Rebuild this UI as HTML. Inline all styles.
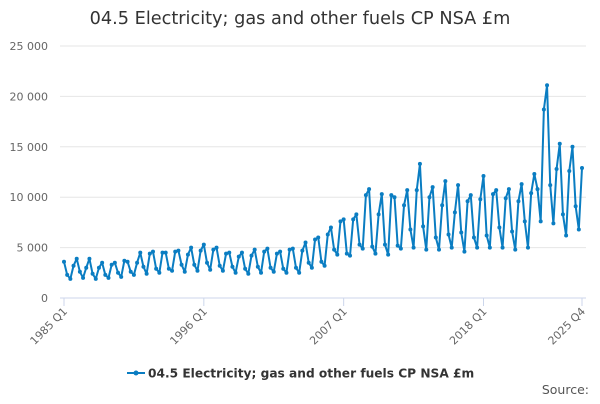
<!DOCTYPE html>
<html><head><meta charset="utf-8"><style>
body{margin:0;background:#fff;font-family:"DejaVu Sans","Liberation Sans",sans-serif}
svg text{font-family:"DejaVu Sans","Liberation Sans",sans-serif}
</style></head><body>
<svg id="c" width="600" height="400">
<text x="300" y="24" text-anchor="middle" font-size="17.7" fill="#333">04.5 Electricity; gas and other fuels CP NSA £m</text>
<g id="grid"></g><g id="axes"></g><g id="series"></g>
<g>
<line x1="127" y1="373" x2="145" y2="373" stroke="#0a7dc2" stroke-width="2"/>
<circle cx="136" cy="373" r="2.5" fill="#0a7dc2"/>
<text x="148" y="377.5" font-size="12.2" font-weight="bold" fill="#333">04.5 Electricity; gas and other fuels CP NSA £m</text>
</g>
<text x="589" y="394" text-anchor="end" font-size="12.5" fill="#555">Source:</text>
</svg>
<script>
const startYear = 1985;
const values = [
3600,2300,1900,3200, 3900,2600,2000,3000, 3900,2400,1900,3000, 3500,2300,2000,3300,
3500,2500,2100,3700, 3600,2600,2300,3500, 4500,3100,2400,4400, 4600,2900,2500,4500,
4500,2900,2700,4600, 4700,3300,2600,4300, 5000,3300,2700,4700, 5300,3500,2800,4800,
5000,3200,2700,4400, 4500,3100,2500,4100, 4500,2900,2400,4200, 4800,3100,2500,4600,
4900,3000,2600,4400, 4600,2900,2500,4800, 4900,3000,2500,4700, 5500,3500,3000,5800,
6000,3600,3200,6300, 7000,4800,4300,7600, 7800,4400,4200,7800, 8300,5300,4900,10200,
10800,5100,4400,8300, 10300,5300,4300,10200, 10000,5200,4900,9200, 10700,6800,5000,10700,
13300,7100,4800,10000, 11000,6000,4800,9200, 11600,6300,5000,8500, 11200,6500,4600,9600,
10200,6000,5000,9800, 12100,6200,5000,10300, 10700,7000,5000,9900, 10800,6600,4800,9600,
11300,7600,5000,10400, 12300,10800,7600,18700, 21100,11200,7400,12800, 15300,8300,6200,12600,
15000,9100,6800,12900];
const yTicks = [0,5000,10000,15000,20000,25000];
const yTickLabels = ["0","5 000","10 000","15 000","20 000","25 000"];
const xTickIdx = [0,44,88,132,163];
const xTickLabels = ["1985 Q1","1996 Q1","2007 Q1","2018 Q1","2025 Q4"];

const NS="http://www.w3.org/2000/svg";
const x0=64,x1=582,yb=298,yt=46,ymax=25000;
const X=i=>x0+(x1-x0)*i/(values.length-1);
const Y=v=>yb-(yb-yt)*v/ymax;
function mk(t,a,p){const e=document.createElementNS(NS,t);for(const k in a)e.setAttribute(k,a[k]);p.appendChild(e);return e;}
const grid=document.getElementById('grid'),axes=document.getElementById('axes'),ser=document.getElementById('series');
yTicks.forEach((v,i)=>{
 const l=mk('line',{x1:x0-4,x2:x1+4,y1:Y(v),y2:Y(v),stroke:v===0?'#ccd6eb':'#e6e6e6','stroke-width':1},grid);
 
 
 const t=mk('text',{x:48,y:Y(v)+4,'text-anchor':'end','font-size':11,fill:'#666'},axes);
 t.textContent=yTickLabels[i];
 
 
});
xTickIdx.forEach((idx,i)=>{
 const x=X(idx);
 const tk=mk('line',{x1:x,x2:x,y1:yb,y2:yb+8,stroke:'#ccd6eb'},axes);
 
 
 const t=mk('text',{x:x+4,y:yb+14,'text-anchor':'end','font-size':11,fill:'#666',transform:`rotate(-45 ${x+4} ${yb+14})`},axes);
 t.textContent=xTickLabels[i];
 
 
});
const p=mk('polyline',{points:values.map((v,i)=>X(i)+','+Y(v)).join(' '),fill:'none',stroke:'#0a7dc2','stroke-width':2,'stroke-linejoin':'round'},ser);


values.forEach((v,i)=>{
 const c=mk('circle',{cx:X(i),cy:Y(v),r:2,fill:'#0a7dc2'},ser);
 
 
});
</script>
</body></html>
